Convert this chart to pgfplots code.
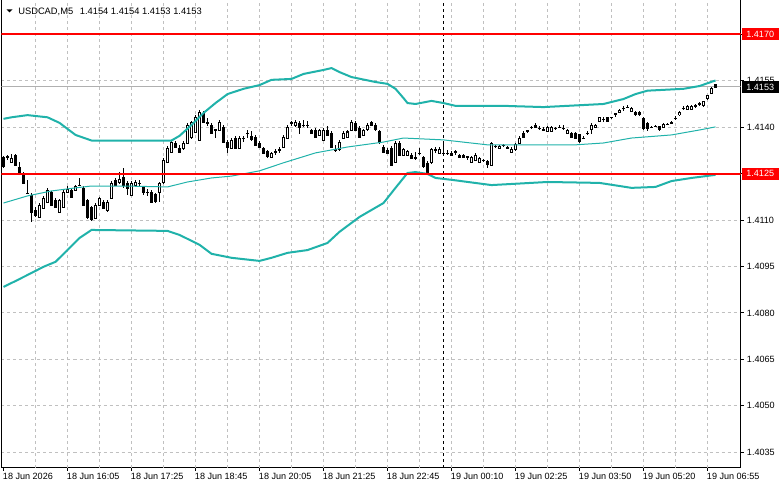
\documentclass[border=0pt]{standalone}
\usepackage{pgfplots}
\pgfplotsset{compat=1.18}
\usepackage{pgfplotstable}
\usepackage{fontspec}
\setmainfont{Liberation Sans}
\definecolor{bb}{RGB}{32,178,170}
\definecolor{gridc}{RGB}{192,192,192}
\definecolor{pricec}{RGB}{176,176,176}

\pgfplotstableread{
i O H L C
0 1.41301 1.41307 1.41268 1.41272
1 1.41304 1.41310 1.41294 1.41304
2 1.41288 1.41314 1.41285 1.41301
3 1.41310 1.41314 1.41275 1.41278
4 1.41272 1.41288 1.41249 1.41252
5 1.41252 1.41255 1.41217 1.41220
6 1.41188 1.41230 1.41188 1.41188
7 1.41181 1.41188 1.41094 1.41126
8 1.41133 1.41142 1.41110 1.41117
9 1.41110 1.41155 1.41107 1.41149
10 1.41139 1.41178 1.41136 1.41171
11 1.41159 1.41204 1.41155 1.41197
12 1.41188 1.41194 1.41146 1.41149
13 1.41165 1.41171 1.41139 1.41142
14 1.41126 1.41168 1.41123 1.41165
15 1.41142 1.41197 1.41139 1.41191
16 1.41191 1.41210 1.41188 1.41200
17 1.41197 1.41204 1.41171 1.41175
18 1.41197 1.41213 1.41194 1.41207
19 1.41213 1.41236 1.41210 1.41213
20 1.41204 1.41210 1.41146 1.41149
21 1.41165 1.41171 1.41104 1.41110
22 1.41139 1.41146 1.41097 1.41100
23 1.41107 1.41155 1.41104 1.41149
24 1.41149 1.41178 1.41146 1.41171
25 1.41159 1.41165 1.41136 1.41139
26 1.41133 1.41165 1.41126 1.41159
27 1.41171 1.41226 1.41168 1.41220
28 1.41230 1.41236 1.41210 1.41213
29 1.41220 1.41255 1.41217 1.41230
30 1.41239 1.41268 1.41204 1.41213
31 1.41220 1.41226 1.41181 1.41204
32 1.41181 1.41226 1.41178 1.41220
33 1.41213 1.41230 1.41210 1.41223
34 1.41220 1.41230 1.41213 1.41220
35 1.41204 1.41210 1.41181 1.41188
36 1.41191 1.41200 1.41178 1.41191
37 1.41191 1.41197 1.41155 1.41159
38 1.41181 1.41188 1.41155 1.41159
39 1.41191 1.41226 1.41159 1.41220
40 1.41223 1.41301 1.41217 1.41294
41 1.41288 1.41339 1.41285 1.41333
42 1.41320 1.41359 1.41317 1.41352
43 1.41349 1.41356 1.41333 1.41336
44 1.41333 1.41343 1.41317 1.41320
45 1.41333 1.41356 1.41327 1.41349
46 1.41349 1.41414 1.41346 1.41407
47 1.41365 1.41420 1.41362 1.41414
48 1.41385 1.41440 1.41381 1.41433
49 1.41359 1.41456 1.41356 1.41449
50 1.41446 1.41452 1.41414 1.41417
51 1.41414 1.41430 1.41404 1.41414
52 1.41407 1.41414 1.41378 1.41381
53 1.41391 1.41394 1.41365 1.41391
54 1.41391 1.41423 1.41388 1.41417
55 1.41401 1.41407 1.41349 1.41352
56 1.41352 1.41359 1.41317 1.41336
57 1.41333 1.41365 1.41330 1.41359
58 1.41365 1.41372 1.41330 1.41333
59 1.41333 1.41372 1.41330 1.41365
60 1.41365 1.41372 1.41352 1.41365
61 1.41381 1.41391 1.41365 1.41381
62 1.41368 1.41388 1.41356 1.41359
63 1.41368 1.41375 1.41339 1.41343
64 1.41349 1.41356 1.41333 1.41336
65 1.41333 1.41339 1.41314 1.41317
66 1.41320 1.41327 1.41301 1.41304
67 1.41304 1.41320 1.41301 1.41317
68 1.41320 1.41330 1.41310 1.41320
69 1.41327 1.41336 1.41317 1.41327
70 1.41336 1.41375 1.41333 1.41368
71 1.41365 1.41407 1.41362 1.41401
72 1.41414 1.41420 1.41404 1.41414
73 1.41407 1.41423 1.41401 1.41417
74 1.41414 1.41420 1.41378 1.41401
75 1.41407 1.41423 1.41401 1.41407
76 1.41407 1.41420 1.41397 1.41407
77 1.41391 1.41397 1.41378 1.41381
78 1.41391 1.41397 1.41365 1.41368
79 1.41375 1.41397 1.41372 1.41391
80 1.41359 1.41397 1.41356 1.41391
81 1.41391 1.41404 1.41372 1.41375
82 1.41381 1.41388 1.41333 1.41336
83 1.41327 1.41343 1.41320 1.41327
84 1.41327 1.41359 1.41323 1.41352
85 1.41365 1.41388 1.41362 1.41381
86 1.41368 1.41391 1.41365 1.41385
87 1.41391 1.41423 1.41388 1.41417
88 1.41414 1.41420 1.41388 1.41391
89 1.41397 1.41404 1.41365 1.41368
90 1.41375 1.41397 1.41372 1.41391
91 1.41391 1.41414 1.41388 1.41407
92 1.41417 1.41423 1.41404 1.41407
93 1.41407 1.41414 1.41388 1.41391
94 1.41385 1.41391 1.41346 1.41349
95 1.41336 1.41343 1.41317 1.41320
96 1.41327 1.41333 1.41314 1.41317
97 1.41333 1.41339 1.41275 1.41278
98 1.41288 1.41356 1.41285 1.41349
99 1.41349 1.41356 1.41307 1.41310
100 1.41310 1.41333 1.41307 1.41327
101 1.41310 1.41327 1.41307 1.41320
102 1.41310 1.41317 1.41297 1.41301
103 1.41301 1.41320 1.41297 1.41301
104 1.41317 1.41333 1.41310 1.41317
105 1.41301 1.41307 1.41268 1.41272
106 1.41285 1.41291 1.41252 1.41255
107 1.41285 1.41333 1.41281 1.41327
108 1.41327 1.41336 1.41317 1.41327
109 1.41317 1.41336 1.41314 1.41330
110 1.41317 1.41349 1.41307 1.41317
111 1.41317 1.41327 1.41310 1.41317
112 1.41317 1.41323 1.41307 1.41310
113 1.41320 1.41327 1.41310 1.41320
114 1.41310 1.41314 1.41301 1.41304
115 1.41310 1.41314 1.41301 1.41304
116 1.41304 1.41307 1.41294 1.41304
117 1.41288 1.41307 1.41285 1.41304
118 1.41294 1.41317 1.41291 1.41310
119 1.41288 1.41304 1.41285 1.41301
120 1.41294 1.41297 1.41288 1.41294
121 1.41288 1.41294 1.41268 1.41278
122 1.41278 1.41352 1.41275 1.41349
123 1.41339 1.41343 1.41333 1.41339
124 1.41333 1.41343 1.41330 1.41339
125 1.41343 1.41346 1.41336 1.41343
126 1.41333 1.41339 1.41330 1.41333
127 1.41320 1.41336 1.41317 1.41330
128 1.41327 1.41349 1.41323 1.41343
129 1.41349 1.41372 1.41346 1.41365
130 1.41381 1.41388 1.41365 1.41368
131 1.41388 1.41391 1.41381 1.41388
132 1.41401 1.41404 1.41394 1.41401
133 1.41407 1.41414 1.41397 1.41401
134 1.41397 1.41404 1.41391 1.41397
135 1.41391 1.41401 1.41388 1.41391
136 1.41388 1.41404 1.41385 1.41401
137 1.41388 1.41404 1.41385 1.41401
138 1.41397 1.41401 1.41391 1.41397
139 1.41401 1.41407 1.41397 1.41401
140 1.41397 1.41407 1.41391 1.41397
141 1.41381 1.41397 1.41378 1.41391
142 1.41381 1.41385 1.41365 1.41368
143 1.41381 1.41385 1.41362 1.41365
144 1.41375 1.41378 1.41349 1.41352
145 1.41365 1.41372 1.41362 1.41365
146 1.41381 1.41388 1.41375 1.41381
147 1.41391 1.41414 1.41378 1.41407
148 1.41401 1.41410 1.41397 1.41407
149 1.41420 1.41433 1.41417 1.41430
150 1.41427 1.41433 1.41417 1.41427
151 1.41430 1.41433 1.41417 1.41420
152 1.41433 1.41436 1.41427 1.41433
153 1.41443 1.41446 1.41433 1.41443
154 1.41449 1.41459 1.41446 1.41456
155 1.41462 1.41469 1.41452 1.41462
156 1.41465 1.41472 1.41462 1.41465
157 1.41452 1.41465 1.41449 1.41462
158 1.41449 1.41452 1.41436 1.41440
159 1.41449 1.41452 1.41436 1.41440
160 1.41430 1.41433 1.41394 1.41397
161 1.41414 1.41417 1.41388 1.41397
162 1.41401 1.41404 1.41397 1.41401
163 1.41404 1.41407 1.41401 1.41404
164 1.41401 1.41404 1.41388 1.41391
165 1.41401 1.41414 1.41397 1.41410
166 1.41410 1.41414 1.41407 1.41410
167 1.41414 1.41420 1.41410 1.41414
168 1.41430 1.41436 1.41423 1.41430
169 1.41440 1.41452 1.41436 1.41449
170 1.41462 1.41469 1.41456 1.41462
171 1.41459 1.41472 1.41456 1.41469
172 1.41459 1.41472 1.41456 1.41469
173 1.41469 1.41478 1.41465 1.41469
174 1.41475 1.41482 1.41469 1.41475
175 1.41469 1.41485 1.41465 1.41482
176 1.41494 1.41507 1.41488 1.41504
177 1.41511 1.41530 1.41507 1.41527
178 1.41540 1.41540 1.41530 1.41530
}\candles

\pgfplotstableread{
i v
0 1.41427
2 1.41432
6 1.41439
11 1.41432
14 1.41414
18 1.41375
22 1.41357
42 1.41357
44 1.41372
47 1.41407
50 1.41446
53 1.41478
56 1.41507
60 1.41524
64 1.41536
67 1.41553
72 1.41556
75 1.41572
80 1.41585
82 1.41591
84 1.41578
87 1.41562
93 1.41546
96 1.41540
98 1.41524
100 1.41494
101 1.41478
103 1.41475
107 1.41485
110 1.41478
113 1.41469
125 1.41469
135 1.41465
150 1.41475
155 1.41491
158 1.41507
161 1.41518
170 1.41524
174 1.41533
178 1.41551
}\bbup

\pgfplotstableread{
i v
0 1.41155
6 1.41178
12 1.41194
18 1.41204
22 1.41210
30 1.41210
41 1.41207
46 1.41223
52 1.41236
57 1.41242
64 1.41259
70 1.41285
78 1.41317
86 1.41336
95 1.41352
100 1.41365
110 1.41359
121 1.41343
143 1.41343
150 1.41349
157 1.41365
167 1.41375
174 1.41391
178 1.41401
}\bbmid

\pgfplotstableread{
i v
0 1.40884
3 1.40903
7 1.40929
10 1.40949
13 1.40965
16 1.41003
19 1.41042
22 1.41068
41 1.41065
44 1.41052
49 1.41020
52 1.40991
57 1.40978
64 1.40968
67 1.40978
71 1.40994
76 1.41003
81 1.41026
84 1.41062
89 1.41110
95 1.41155
98 1.41204
101 1.41252
103 1.41255
106 1.41249
108 1.41236
112 1.41230
122 1.41213
136 1.41223
149 1.41220
157 1.41204
163 1.41207
167 1.41226
172 1.41236
178 1.41246
}\bblow

\newcommand{\lblfont}{\fontsize{6.8}{8}\selectfont}

\begin{document}
\begin{tikzpicture}
\useasboundingbox (-1.125pt,-15.975pt) rectangle (584.625pt,350.75pt);
\begin{axis}[
  at={(0,0)}, anchor=south west, scale only axis,
  width=554.25pt, height=350.75pt,
  xmin=-0.5, xmax=184.25, ymin=1.403, ymax=1.41811,
  clip mode=individual,
  axis line style={line width=0.75pt, black},
  tick align=outside,
  major tick length=2.25pt,
  every tick/.style={black, line width=0.75pt},
  xtick={0,16,32,48,64,80,96,112,128,144,160,176},
  xticklabels={18 Jun 2026, 18 Jun 16:05, 18 Jun 17:25, 18 Jun 18:45, 18 Jun 20:05, 18 Jun 21:25, 18 Jun 22:45, 19 Jun 00:10, 19 Jun 02:25, 19 Jun 03:50, 19 Jun 05:20, 19 Jun 06:55},
  xtick pos=bottom,
  xticklabel style={anchor=north west, inner sep=0pt, xshift=-0.6pt, yshift=-1.75pt, font=\lblfont},
  extra x ticks={8,16,24,32,40,48,56,64,72,80,88,96,104,112,120,128,136,144,152,160,168,176},
  extra x tick labels={},
  extra x tick style={xmajorgrids=true, major tick length=0pt},
  ytick={1.4035,1.4050,1.4065,1.4080,1.4095,1.4110,1.4125,1.4140,1.4155,1.4170},
  yticklabels={1.4035,1.4050,1.4065,1.4080,1.4095,1.4110,1.4125,1.4140,1.4155,1.4170},
  ytick pos=right,
  yticklabel pos=right,
  yticklabel style={anchor=west, inner sep=0pt, xshift=2.4pt, font=\lblfont},
  ymajorgrids=true,
  grid style={gridc, line width=0.75pt, dash pattern=on 2.25pt off 2.25pt},
]
% period separator and current price line
\addplot[black, line width=0.75pt, dash pattern=on 2.25pt off 2.25pt] coordinates {(109.95,1.403) (109.95,1.41811)};
\addplot[pricec, line width=0.75pt] coordinates {(-0.5,1.4153) (184.25,1.4153)};
% wicks
\addplot[draw=none, mark=none, error bars/.cd, y dir=both, y explicit, error mark=none,
  error bar style={draw=black, line width=0.75pt, line cap=butt}]
  table[x=i, y expr={(\thisrow{H}+\thisrow{L})/2}, y error expr={(\thisrow{H}-\thisrow{L})/2}] {\candles};
% bodies
\addplot[draw=none, mark=none, error bars/.cd, y dir=both, y explicit, error mark=none,
  error bar style={draw=black, line width=2.25pt, line cap=butt}]
  table[x=i, y expr={(\thisrow{O}+\thisrow{C})/2}, y error expr={abs(\thisrow{C}-\thisrow{O})/2+0.0000162}] {\candles};
\addplot[draw=none, mark=none, error bars/.cd, y dir=both, y explicit, error mark=none,
  error bar style={draw=white, line width=0.75pt, line cap=butt}]
  table[x=i, y expr={(\thisrow{O}+\thisrow{C})/2}, y error expr={max((\thisrow{C}-\thisrow{O})/2-0.0000162,0)}] {\candles};
% Bollinger bands
\addplot[bb, line width=1.5pt] table[x=i, y=v] {\bbup};
\addplot[bb, line width=0.75pt] table[x=i, y=v] {\bbmid};
\addplot[bb, line width=1.5pt] table[x=i, y=v] {\bblow};
% horizontal levels
\addplot[red, line width=1.5pt] coordinates {(-0.5,1.4170) (184.25,1.4170)};
\addplot[red, line width=1.5pt] coordinates {(-0.5,1.4125) (184.25,1.4125)};
\coordinate (p1) at (axis cs:184.25,1.4170);
\coordinate (p2) at (axis cs:184.25,1.4125);
\coordinate (p3) at (axis cs:184.25,1.4153);
\coordinate (tl) at (rel axis cs:0,1);
\end{axis}
\node[fill=red, text=white, anchor=west, inner xsep=3.3pt, inner ysep=0pt, minimum height=9pt, font=\lblfont, xshift=0.9pt] at (p1) {1.4170};
\node[fill=red, text=white, anchor=west, inner xsep=3.3pt, inner ysep=0pt, minimum height=9pt, font=\lblfont, xshift=0.9pt] at (p2) {1.4125};
\node[fill=black, text=white, anchor=west, inner xsep=3.3pt, inner ysep=0pt, minimum height=9pt, font=\lblfont, xshift=0.9pt] at (p3) {1.4153};
\node[anchor=north west, inner sep=0pt, font=\fontsize{7}{8.4}\selectfont, xshift=12.4pt, yshift=-5.5pt] at (tl) {USDCAD,M5\hspace{3pt} 1.4154 1.4154 1.4153 1.4153};
\fill ([shift={(3.75pt,-7.125pt)}]tl) -- ([shift={(8.25pt,-7.125pt)}]tl) -- ([shift={(6pt,-9.375pt)}]tl) -- cycle;
\end{tikzpicture}
\end{document}
